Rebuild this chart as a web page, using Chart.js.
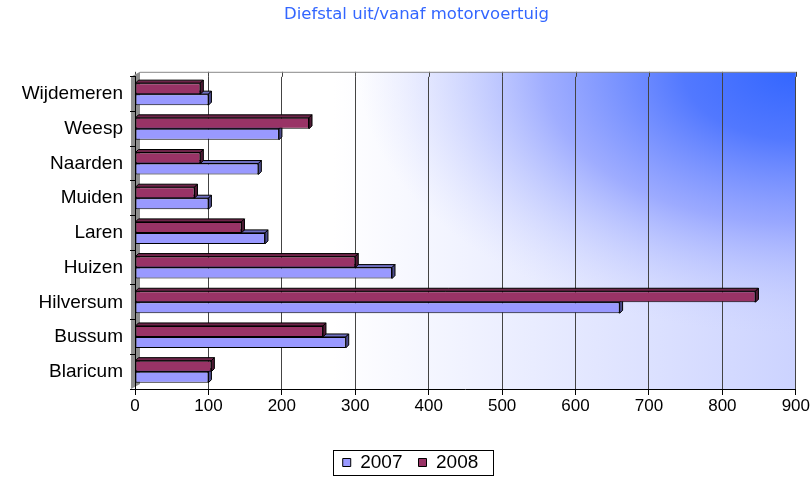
<!DOCTYPE html>
<html>
<head>
<meta charset="utf-8">
<script src="https://cdn.jsdelivr.net/npm/chart.js@4/dist/chart.umd.min.js"></script>
<style>
  html, body { margin: 0; padding: 0; background: #fff; }
</style>
</head>
<body>
<canvas id="myChart" width="811" height="478"></canvas>
<script>
// 1. DATA
const gemeenten = ['Wijdemeren', 'Weesp', 'Naarden', 'Muiden', 'Laren', 'Huizen', 'Hilversum', 'Bussum', 'Blaricum'];
const waarden2007 = [100, 196, 168, 100, 177, 350, 660, 287, 100];
const waarden2008 = [89, 237, 89, 81, 145, 300, 845, 256, 104];
const xTicks = [0, 100, 200, 300, 400, 500, 600, 700, 800, 900];

const FONT = "'Liberation Sans', Arial, sans-serif";
const DEPTH = 3;     // 3D look of the bars
const WALL = 5;      // how far the back wall sits above the chart area

// 2. BACK WALL (gradient + grey side wall)
const wallPlugin = {
    id: 'wall',
    afterLayout(chart) {
        // title and legend sit a little right of centre in the original
        chart.titleBlock.left += 17;
        chart.titleBlock.right += 17;
        chart.legend.left += 11;
        chart.legend.right += 11;
    },
    beforeDraw(chart) {
        const { ctx, chartArea: a, scales } = chart;
        const top = a.top - WALL;
        const w = a.right - a.left;
        ctx.save();
        ctx.beginPath();
        ctx.rect(a.left, top, w, a.bottom - top);
        ctx.clip();

        // pale lavender from left to right
        const lin = ctx.createLinearGradient(a.left, 0, a.right, 0);
        lin.addColorStop(0, '#ffffff');
        lin.addColorStop(0.3, '#ffffff');
        lin.addColorStop(1, '#ccd3ff');
        ctx.fillStyle = lin;
        ctx.fillRect(a.left, top, w, a.bottom - top);

        // strong blue in the top right corner
        ctx.translate(a.right, top);
        ctx.scale(1, 0.6);
        const g = ctx.createRadialGradient(0, 0, 0, 0, 0, 560);
        g.addColorStop(0, 'rgba(51,102,255,1)');
        g.addColorStop(0.2, 'rgba(75,115,255,0.95)');
        g.addColorStop(0.45, 'rgba(130,148,255,0.7)');
        g.addColorStop(0.78, 'rgba(200,207,255,0)');
        ctx.fillStyle = g;
        ctx.fillRect(-a.right, 0, a.right * 2, 900);
        ctx.restore();

        ctx.save();
        // extend grid lines up to the top of the wall
        ctx.strokeStyle = '#444';
        ctx.lineWidth = 1;
        xTicks.forEach((v) => {
            const x = Math.round(scales.x.getPixelForValue(v)) + 0.5;
            ctx.beginPath();
            ctx.moveTo(x, top);
            ctx.lineTo(x, a.top);
            ctx.stroke();
        });
        ctx.strokeStyle = '#888';
        ctx.beginPath();
        ctx.moveTo(a.left + 5, top + 0.5);
        ctx.lineTo(a.right, top + 0.5);
        ctx.stroke();

        // grey side wall
        ctx.fillStyle = '#8f8f8f';
        ctx.beginPath();
        ctx.moveTo(a.left - 4, a.top);
        ctx.lineTo(a.left + 5, top);
        ctx.lineTo(a.left + 5, a.bottom - WALL);
        ctx.lineTo(a.left - 4, a.bottom);
        ctx.closePath();
        ctx.fill();
        ctx.restore();
    }
};

// 3. 3D FACES OF THE BARS
const bar3dPlugin = {
    id: 'bar3d',
    beforeDatasetsDraw(chart) {
        const ctx = chart.ctx;
        const faces = [
            { top: '#6e2449', side: '#4f1a35' },
            { top: '#6e6ec0', side: '#4c4c8c' }
        ];
        ctx.save();
        ctx.lineWidth = 1;
        ctx.strokeStyle = '#000';
        for (let d = chart.data.datasets.length - 1; d >= 0; d--) {
            const meta = chart.getDatasetMeta(d);
            meta.data.forEach((bar) => {
                const t = bar.y - bar.height / 2;
                const b = bar.y + bar.height / 2;
                const x0 = bar.base;
                const x1 = bar.x;
                ctx.fillStyle = faces[d].top;
                ctx.beginPath();
                ctx.moveTo(x0, t);
                ctx.lineTo(x0 + DEPTH, t - DEPTH);
                ctx.lineTo(x1 + DEPTH, t - DEPTH);
                ctx.lineTo(x1, t);
                ctx.closePath();
                ctx.fill();
                ctx.stroke();
                ctx.fillStyle = faces[d].side;
                ctx.beginPath();
                ctx.moveTo(x1, t);
                ctx.lineTo(x1 + DEPTH, t - DEPTH);
                ctx.lineTo(x1 + DEPTH, b - DEPTH);
                ctx.lineTo(x1, b);
                ctx.closePath();
                ctx.fill();
                ctx.stroke();
            });
        }
        ctx.restore();
    }
};

// 4. FRAME AROUND THE LEGEND
const legendBoxPlugin = {
    id: 'legendBox',
    afterDraw(chart) {
        const boxes = chart.legend.legendHitBoxes;
        if (!boxes || !boxes.length) return;
        const left = Math.min(...boxes.map(b => b.left)) - 10;
        const right = Math.max(...boxes.map(b => b.left + b.width)) + 14;
        const top = Math.min(...boxes.map(b => b.top)) - 3;
        const bottom = Math.max(...boxes.map(b => b.top + b.height)) + 3;
        const ctx = chart.ctx;
        ctx.save();
        ctx.strokeStyle = '#000';
        ctx.lineWidth = 1;
        ctx.strokeRect(Math.round(left) + 0.5, Math.round(top) + 0.5, Math.round(right - left), Math.round(bottom - top));
        ctx.restore();
    }
};

// 5. CHART
const ctx = document.getElementById('myChart').getContext('2d');
new Chart(ctx, {
    type: 'bar',
    data: {
        labels: gemeenten,
        datasets: [
            {
                label: '2008',
                data: waarden2008,
                backgroundColor: '#993366',
                borderColor: '#000',
                borderWidth: 1,
                borderSkipped: false
            },
            {
                label: '2007',
                data: waarden2007,
                backgroundColor: '#9999ff',
                borderColor: '#000',
                borderWidth: 1,
                borderSkipped: false
            }
        ]
    },
    options: {
        responsive: false,
        animation: false,
        indexAxis: 'y',
        datasets: {
            bar: { barPercentage: 1, categoryPercentage: 0.635 }
        },
        layout: { padding: { left: 0, right: 12, top: 0, bottom: -4 } },
        scales: {
            x: {
                min: 0,
                max: 900,
                afterBuildTicks: (scale) => { scale.ticks = xTicks.map(v => ({ value: v })); },
                afterFit: (scale) => { scale.height = 48; },
                ticks: { color: '#000', font: { family: FONT, size: 17 }, padding: 1 },
                grid: { color: '#444', tickLength: 6, tickColor: '#000' },
                border: { color: '#000' }
            },
            y: {
                afterFit: (scale) => { scale.width = 135; },
                ticks: { color: '#000', font: { family: FONT, size: 19 }, padding: 7 },
                grid: { drawOnChartArea: false, offset: true, tickLength: 5, color: '#000' },
                border: { color: '#000' }
            }
        },
        plugins: {
            title: {
                display: true,
                text: 'Diefstal uit/vanaf motorvoertuig',
                color: '#3366ff',
                font: { family: "'DejaVu Sans', sans-serif", size: 16.5, weight: 'normal' },
                padding: { top: 5, bottom: 52 }
            },
            legend: {
                position: 'bottom',
                labels: {
                    color: '#000',
                    font: { family: FONT, size: 19 },
                    boxWidth: 8,
                    boxHeight: 8,
                    padding: 16,
                    sort: (a, b) => b.datasetIndex - a.datasetIndex
                }
            },
            tooltip: { enabled: false }
        }
    },
    plugins: [wallPlugin, bar3dPlugin, legendBoxPlugin]
});
</script>
</body>
</html>
